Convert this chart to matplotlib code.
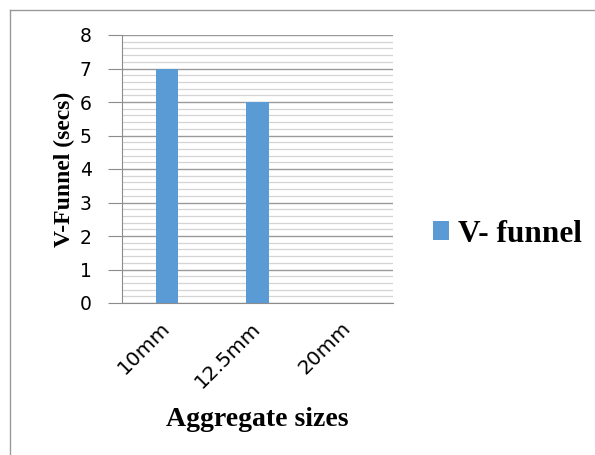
import matplotlib.pyplot as plt
from matplotlib.ticker import MultipleLocator
from matplotlib.lines import Line2D

# aggregate sizes and V-funnel flow times
sizes = ['10mm', '12.5mm', '20mm']
vfunnel = [7, 6, 0]
yticks = [0, 1, 2, 3, 4, 5, 6, 7, 8]

fig = plt.figure(figsize=(5.95, 4.55), dpi=100)
W, H = 595, 455

ax = fig.add_axes([122 / W, (H - 303) / H, 271 / W, 268 / H])

x = range(len(sizes))
ax.bar(x, vfunnel, width=0.25, color='#5b9bd5', label='V- funnel', zorder=3)

ax.set_xlim(-0.5, len(sizes) - 0.5)
ax.set_ylim(0, 8)
ax.set_yticks(yticks)
ax.yaxis.set_minor_locator(MultipleLocator(0.2))
ax.grid(axis='y', which='major', color='#9a9a9a', lw=1.0, zorder=0)
ax.grid(axis='y', which='minor', color='#d4d4d4', lw=0.9, zorder=0)

for s in ['top', 'right']:
    ax.spines[s].set_visible(False)
ax.spines['left'].set_color('#8c8c8c')
ax.spines['bottom'].set_color('#8c8c8c')

ax.tick_params(axis='y', which='major', length=10, color='#8c8c8c', pad=16,
               labelsize=13.5, labelfontfamily='DejaVu Sans')
ax.tick_params(axis='y', which='minor', length=0)
ax.tick_params(axis='x', length=0, pad=16)
for lab in ax.get_yticklabels():
    lab.set_horizontalalignment('center')

ax.set_xticks(list(x))
ax.set_xticklabels(sizes, rotation=45, ha='right', va='center',
                   rotation_mode='anchor', fontsize=14.5, family='DejaVu Sans')

ax.set_ylabel('V-Funnel (secs)', family='Liberation Serif', fontweight='bold',
              fontsize=17)
ax.yaxis.set_label_coords(-58 / 271, 0.5)
ax.set_xlabel('Aggregate sizes', family='Liberation Serif', fontweight='bold',
              fontsize=20)
ax.xaxis.set_label_coords(135 / 271, -(419 - 303) / 268)
ax.xaxis.label.set_va('center')
ax.yaxis.label.set_va('center')

leg = fig.legend(loc='center left', bbox_to_anchor=(433 / W, (H - 234) / H),
                 frameon=False, handlelength=0.52, handleheight=0.52,
                 handletextpad=0.29, borderaxespad=0, borderpad=0,
                 prop={'family': 'Liberation Serif', 'weight': 'bold', 'size': 22.5})

# outer chart frame
fig.add_artist(Line2D([10 / W, 10 / W], [0, 1 - 10 / H], color='#9a9a9a', lw=1))
fig.add_artist(Line2D([10 / W, 1], [1 - 10 / H, 1 - 10 / H], color='#9a9a9a', lw=1))

fig.savefig('out.png', dpi=100)
